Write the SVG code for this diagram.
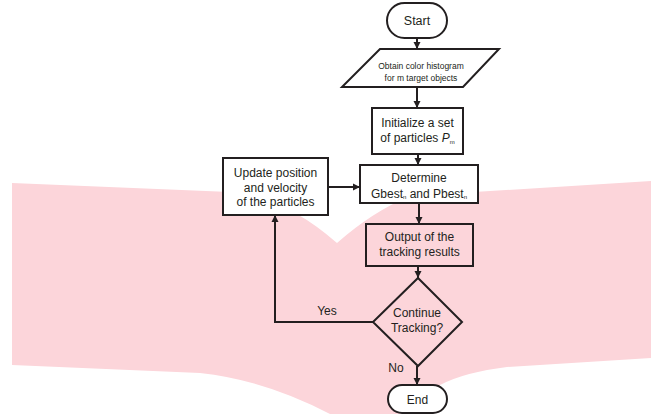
<svg xmlns="http://www.w3.org/2000/svg" width="651" height="414" viewBox="0 0 651 414">
<defs>
<style>
.bg{fill:#fcd5da;stroke:none}
.node{stroke:#231f20;stroke-width:2;fill:#fff}
.clear{fill:none}
.t{font-family:"Liberation Sans","Open Sans",sans-serif;fill:#231f20;text-anchor:middle}
.m{font-size:12px}
.s{font-size:8.5px}
.sub{font-size:6px}
.edge{stroke:#231f20;stroke-width:2;fill:none}
</style>
<marker id="ah" markerUnits="userSpaceOnUse" markerWidth="8" markerHeight="8" viewBox="0 0 8 8" refX="7" refY="4" orient="auto">
<path d="M0,0.5 L7,4 L0,7.5 Z" fill="#231f20"/>
</marker>
</defs>
<rect width="651" height="414" fill="#fff"/>
<path class="bg" d="M12,183 L230,192 Q285,197 337,243 Q372,212 410,196 L651,181 L651,358 L507,367 Q465,372 440,385 L425,414 L330,414 Q265,380 200,373 L12,365 Z"/>

<g id="connectors">
<line class="edge" x1="417" y1="38" x2="417" y2="49" marker-end="url(#ah)"/>
<line class="edge" x1="417" y1="87" x2="417" y2="108" marker-end="url(#ah)"/>
<line class="edge" x1="418" y1="154" x2="418" y2="165" marker-end="url(#ah)"/>
<line class="edge" x1="328" y1="187" x2="360" y2="187" marker-end="url(#ah)"/>
<line class="edge" x1="419" y1="203" x2="419" y2="224" marker-end="url(#ah)"/>
<line class="edge" x1="418" y1="266" x2="418" y2="278" marker-end="url(#ah)"/>
<polyline class="edge" points="373,322 275,322 275,215" marker-end="url(#ah)"/>
<line class="edge" x1="417" y1="366" x2="417" y2="385" marker-end="url(#ah)"/>
<text class="t m" x="327" y="315">Yes</text>
<text class="t m" x="396" y="372">No</text>
</g>

<g id="start">
<rect class="node" x="387" y="3" width="60" height="35" rx="17.5"/>
<text class="t" x="417" y="25" font-size="12.5">Start</text>
</g>

<g id="obtain">
<polygon class="node" points="380,49 499,49 463,87 342,87"/>
<text class="t s" x="421" y="69">Obtain color histogram</text>
<text class="t s" x="421" y="81">for m target objects</text>
</g>

<g id="initialize">
<rect class="node" x="372" y="108" width="91" height="46"/>
<text class="t m" x="417.5" y="127">Initialize a set</text>
<text class="t m" x="417.5" y="142">of particles <tspan font-style="italic">P</tspan><tspan class="sub" dy="2">m</tspan></text>
</g>

<g id="determine">
<rect class="node" x="360" y="165" width="118" height="38"/>
<text class="t m" x="419" y="182">Determine</text>
<text class="t m" x="419" y="198">Gbest<tspan class="sub" dy="1">n</tspan><tspan dy="-1"> and Pbest</tspan><tspan class="sub" dy="1">n</tspan></text>
</g>

<g id="update">
<rect class="node" x="223" y="158" width="105" height="57"/>
<text class="t m" x="275.5" y="177">Update position</text>
<text class="t m" x="275.5" y="191.5">and velocity</text>
<text class="t m" x="275.5" y="206">of the particles</text>
</g>

<g id="output">
<rect class="node clear" x="366" y="224" width="107" height="42"/>
<text class="t m" x="419.5" y="241">Output of the</text>
<text class="t m" x="419.5" y="256">tracking results</text>
</g>

<g id="continue">
<polygon class="node clear" points="418,278 462,322 418,366 373,322"/>
<text class="t m" x="417" y="317">Continue</text>
<text class="t m" x="417" y="332">Tracking?</text>
</g>

<g id="end">
<rect class="node" x="388" y="385" width="59" height="28" rx="14"/>
<text class="t" x="417.5" y="404" font-size="12">End</text>
</g>
</svg>
